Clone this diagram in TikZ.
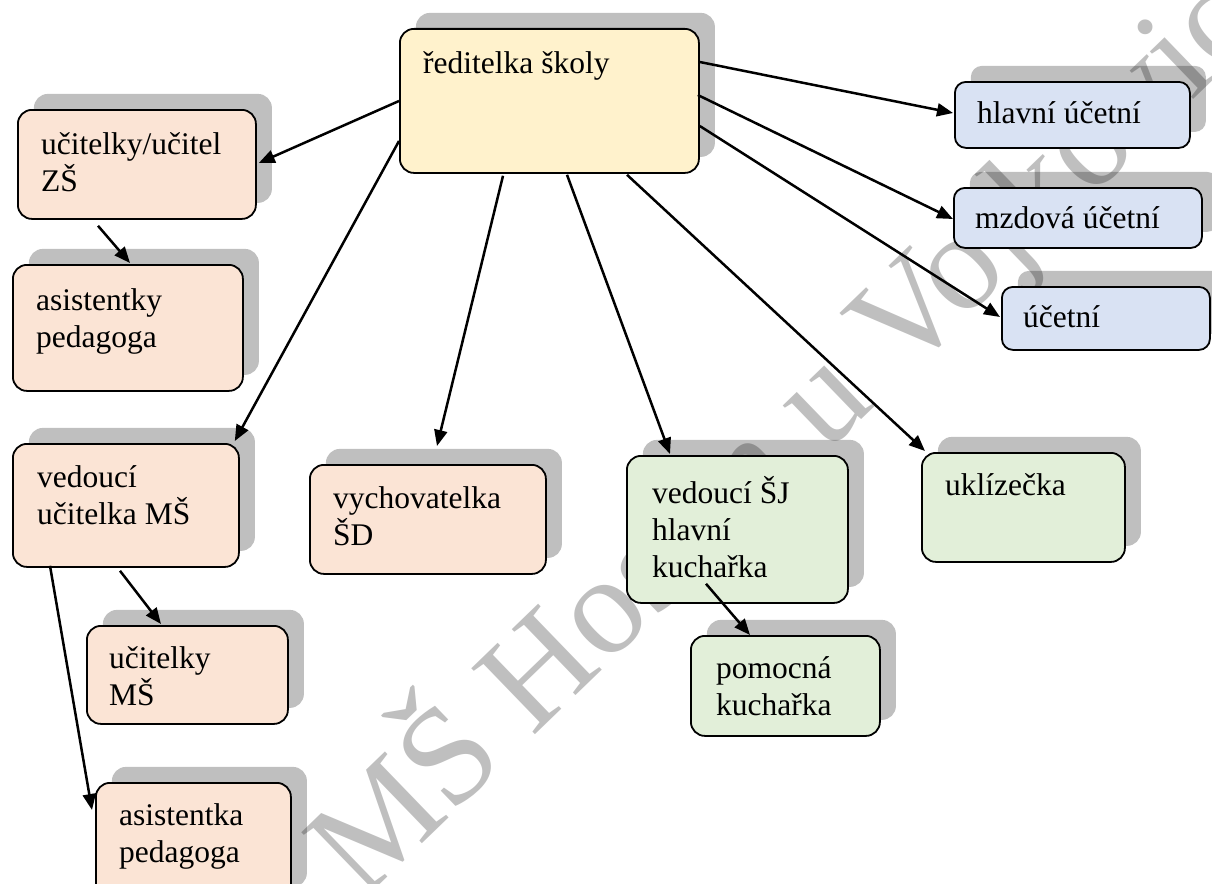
\documentclass[tikz,border=0pt]{standalone}
\usepackage{fontspec}
\setmainfont{Liberation Serif}
\usetikzlibrary{arrows.meta,calc,shadows}
\definecolor{cyellow}{HTML}{FFF2CC}
\definecolor{cpink}{HTML}{FBE4D5}
\definecolor{cgreen}{HTML}{E2EFD9}
\definecolor{cblue}{HTML}{D9E2F3}
\tikzset{
  orgbox/.style={draw=black, line width=1.8pt, rounded corners=14pt, anchor=north west, inner sep=0pt,
    drop shadow={shadow xshift=16pt, shadow yshift=16pt, fill=black, opacity=0.25, draw=none}},
  lbl/.style={anchor=base west, inner sep=0pt, align=left, font=\fontsize{31.5}{37}\selectfont},
  conn/.style={line width=2.5pt, -{Triangle[length=16pt,width=13pt]}},
  wmark/.style={rotate=44, anchor=base west, inner sep=0pt, font=\fontsize{140}{140}\selectfont, text=black, text opacity=0.25}
}
\begin{document}
\begin{tikzpicture}[x=1pt,y=-1pt]
\useasboundingbox (0,0) rectangle (1212,883);
\clip (0,0) rectangle (1212,883);
% watermark
\node[wmark] (wm) at (362,902) {MŠ Hostín u Vojkovic};
% boxes (text nodes: base = baseline of the last line)
\node[orgbox, fill=cyellow, minimum width=299pt, minimum height=144pt] (dir) at (399,28) {};
\node[lbl] (dir-t) at (423,74) {ředitelka školy};
\node[orgbox, fill=cpink, minimum width=238pt, minimum height=109pt] (zs) at (17,109) {};
\node[lbl] (zs-t) at (41,191) {učitelky/učitel\\ZŠ};
\node[orgbox, fill=cpink, minimum width=230pt, minimum height=126pt] (as1) at (12,264) {};
\node[lbl] (as1-t) at (36,347) {asistentky\\pedagoga};
\node[orgbox, fill=cpink, minimum width=226pt, minimum height=123pt] (vm) at (12,443) {};
\node[lbl] (vm-t) at (37,524) {vedoucí\\učitelka MŠ};
\node[orgbox, fill=cpink, minimum width=201pt, minimum height=98pt] (um) at (86,625) {};
\node[lbl] (um-t) at (109,705) {učitelky\\MŠ};
\node[orgbox, fill=cpink, minimum width=195pt, minimum height=120pt] (as2) at (95,782) {};
\node[lbl] (as2-t) at (119,862) {asistentka\\pedagoga};
\node[orgbox, fill=cpink, minimum width=236pt, minimum height=109pt] (vych) at (309,464) {};
\node[lbl] (vych-t) at (333,545) {vychovatelka\\ŠD};
\node[orgbox, fill=cgreen, minimum width=221pt, minimum height=147pt] (sj) at (626,455) {};
\node[lbl] (sj-t) at (652,577) {vedoucí ŠJ\\hlavní\\kuchařka};
\node[orgbox, fill=cgreen, minimum width=189pt, minimum height=100pt] (pk) at (690,635) {};
\node[lbl] (pk-t) at (716,715) {pomocná\\kuchařka};
\node[orgbox, fill=cgreen, minimum width=203pt, minimum height=109pt] (ukl) at (921,452) {};
\node[lbl] (ukl-t) at (945,495) {uklízečka};
\node[orgbox, fill=cblue, rounded corners=11pt, minimum width=235pt, minimum height=66pt] (hu) at (954,81) {};
\node[lbl] (hu-t) at (977,123) {hlavní účetní};
\node[orgbox, fill=cblue, rounded corners=11pt, minimum width=248pt, minimum height=60pt] (mu) at (953,187) {};
\node[lbl] (mu-t) at (975,228) {mzdová účetní};
\node[orgbox, fill=cblue, rounded corners=11pt, minimum width=208pt, minimum height=63pt] (uc) at (1001,286) {};
\node[lbl] (uc-t) at (1023,327) {účetní};
% connectors
\draw[conn] ($(dir.north west)+(0,73)$) -- ($(zs.north east)+(2,54)$);
\draw[conn] ($(dir.north west)+(0,113)$) -- ($(vm.north east)+(-5,-2)$);
\draw[conn] ($(dir.south west)+(104,2)$) -- ($(vych.north west)+(128,-18)$);
\draw[conn] ($(dir.south west)+(168,1)$) -- ($(sj.north west)+(44,-1)$);
\draw[conn] ($(dir.south west)+(228,1)$) -- ($(ukl.north west)+(4,-1)$);
\draw[conn] ($(dir.north east)+(0,34)$) -- ($(hu.north west)+(-1,32)$);
\draw[conn] ($(dir.north east)+(-2,67)$) -- ($(mu.north west)+(0,32)$);
\draw[conn] ($(dir.north east)+(0,98)$) -- ($(uc.north west)+(-1,31)$);
\draw[conn] ($(zs.south west)+(81,6)$) -- ($(as1.north west)+(118,-1)$);
\draw[conn] ($(vm.south west)+(108,3)$) -- ($(um.north west)+(75,-1)$);
\draw[conn] ($(vm.south west)+(38,-2)$) -- ($(as2.north west)+(-3,28)$);
\draw[conn] ($(sj.south west)+(80,-20)$) -- ($(pk.north west)+(60,0)$);
\end{tikzpicture}
\end{document}
